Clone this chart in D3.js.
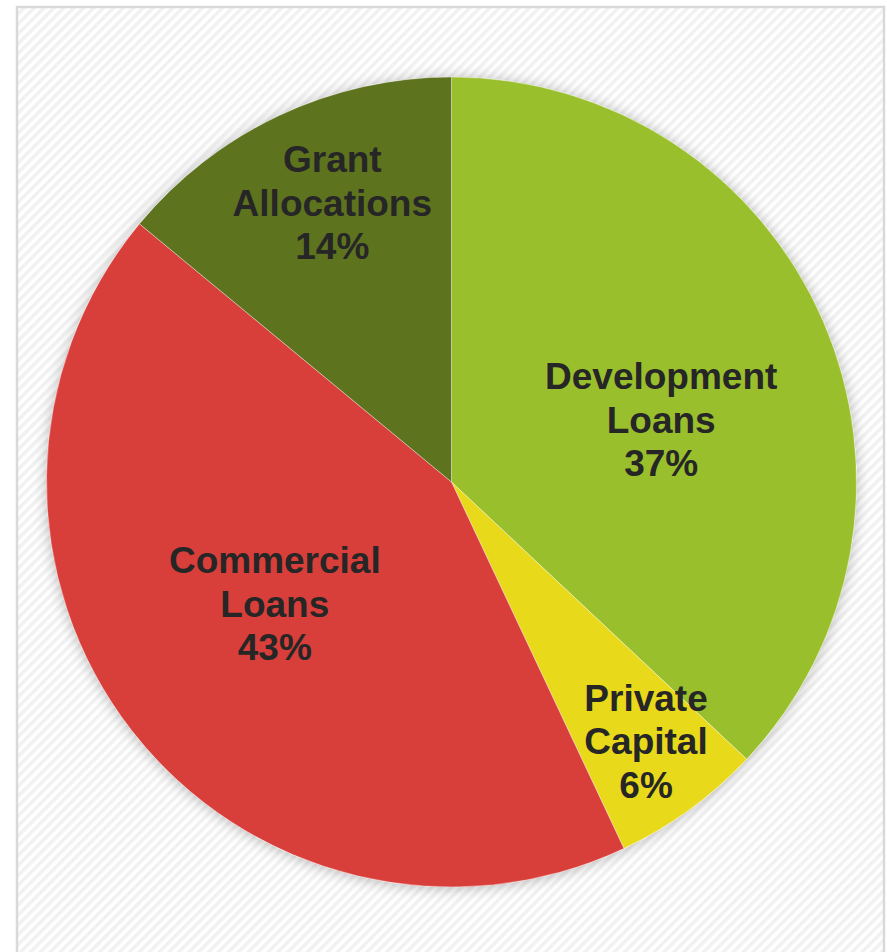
<!DOCTYPE html>
<html>
<head>
<meta charset="utf-8">
<script src="https://cdn.jsdelivr.net/npm/d3@7"></script>
<style>
  html, body { margin: 0; padding: 0; background: #ffffff; }
  svg { display: block; }
</style>
</head>
<body>
<svg id="chart" width="887" height="952"></svg>
<script>
// Funding sources, clockwise from 12 o'clock
const categories = ["Development Loans", "Private Capital", "Commercial Loans", "Grant Allocations"];
const labelLines = [["Development", "Loans"], ["Private", "Capital"], ["Commercial", "Loans"], ["Grant", "Allocations"]];
const shares = [37, 6, 43, 14];
const colors = ["#99bf2d", "#e8d91b", "#d93f3a", "#5e731e"];

// Label anchor per slice: fraction of radius and angle (degrees from 12 o'clock)
const labelPlacement = [
  { r: 0.54, a: 73.5 },
  { r: 0.80, a: 143.1 },
  { r: 0.53, a: 235.4 },
  { r: 0.75, a: 336.9 }
];

const W = 887, H = 952;
const cx = 451.5, cy = 482, R = 405;

const svg = d3.select("#chart");
const defs = svg.append("defs");

// Fine diagonal hatch used for the panel background
const pat = defs.append("pattern")
  .attr("id", "hatch")
  .attr("patternUnits", "userSpaceOnUse")
  .attr("width", 7).attr("height", 7)
  .attr("patternTransform", "rotate(45)");
pat.append("rect").attr("width", 7).attr("height", 7).attr("fill", "#ffffff");
pat.append("rect").attr("width", 3.5).attr("height", 7).attr("fill", "#f1f1f1");

const shadow = defs.append("filter")
  .attr("id", "pieShadow")
  .attr("x", "-10%").attr("y", "-10%")
  .attr("width", "120%").attr("height", "120%");
shadow.append("feDropShadow")
  .attr("dx", 0).attr("dy", 1)
  .attr("stdDeviation", 7)
  .attr("flood-color", "#000000")
  .attr("flood-opacity", 0.28);

// Panel
svg.append("rect")
  .attr("x", 17).attr("y", 7)
  .attr("width", 867).attr("height", 960)
  .attr("fill", "url(#hatch)")
  .attr("stroke", "#d9d9d9")
  .attr("stroke-width", 2.5);

const pie = d3.pie().sort(null).value(d => d);
const arcs = pie(shares);
const arc = d3.arc().innerRadius(0).outerRadius(R);

const g = svg.append("g").attr("transform", `translate(${cx},${cy})`);

g.append("circle")
  .attr("r", R)
  .attr("fill", "#ffffff")
  .attr("filter", "url(#pieShadow)");

g.selectAll("path.slice")
  .data(arcs)
  .join("path")
  .attr("class", "slice")
  .attr("d", arc)
  .attr("fill", (d, i) => colors[i])
  .attr("stroke", "rgba(255,255,255,0.35)")
  .attr("stroke-width", 1);

const lineH = 43.5;
const labels = g.selectAll("text.label")
  .data(arcs)
  .join("text")
  .attr("class", "label")
  .attr("text-anchor", "middle")
  .attr("font-family", "'Liberation Sans', Arial, sans-serif")
  .attr("font-weight", "bold")
  .attr("font-size", 37)
  .attr("fill", "#262626")
  .attr("transform", (d, i) => {
    const p = labelPlacement[i];
    const ang = p.a * Math.PI / 180;
    const x = Math.sin(ang) * p.r * R;
    const y = -Math.cos(ang) * p.r * R;
    return `translate(${x},${y})`;
  });

labels.each(function(d, i) {
  const lines = labelLines[i].concat([d3.format("d")(shares[i]) + "%"]);
  const t = d3.select(this);
  lines.forEach((s, k) => {
    t.append("tspan")
      .attr("x", 0)
      .attr("y", (k - 1) * lineH + 13)
      .text(s);
  });
});
</script>
</body>
</html>
